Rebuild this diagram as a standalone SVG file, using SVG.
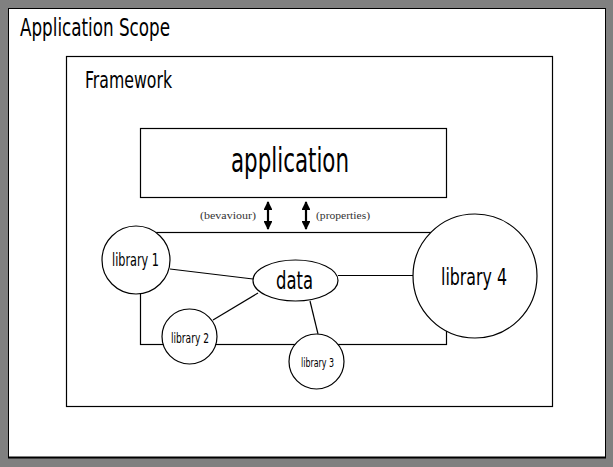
<svg xmlns="http://www.w3.org/2000/svg" width="613" height="467" viewBox="0 0 613 467">
<defs>
<style>
.ln{stroke:#000;stroke-width:1.2;fill:none}
.nd{stroke:#000;stroke-width:1.2;fill:#fff}
.t{font-family:"DejaVu Sans Condensed","DejaVu Sans","Liberation Sans",sans-serif;fill:#000}
.s{font-family:"Liberation Serif",serif;fill:#333;font-size:11px}
.ar{stroke:#000;stroke-width:2.2;fill:none}
</style>
<marker id="ah" viewBox="0 0 10 10" refX="9" refY="5" markerWidth="4" markerHeight="4" orient="auto-start-reverse" markerUnits="strokeWidth">
<path d="M0,0 L10,5 L0,10 z" fill="#000"/>
</marker>
</defs>
<rect x="0" y="0" width="613" height="467" fill="#808080"/>
<rect x="8.5" y="8.5" width="597" height="449" fill="#fff" stroke="#000" stroke-width="1"/>
<line x1="8" y1="457.5" x2="606" y2="457.5" stroke="#000" stroke-width="2"/>
<text class="t" x="20" y="36" font-size="25" textLength="150" lengthAdjust="spacingAndGlyphs">Application Scope</text>
<g id="framework">
<rect x="66.5" y="56.5" width="486" height="350" class="nd"/>
<text class="t" x="85" y="88" font-size="23" textLength="87" lengthAdjust="spacingAndGlyphs">Framework</text>
</g>
<g id="application">
<rect x="140.5" y="128.5" width="306" height="69" class="nd"/>
<text class="t" x="231" y="172" font-size="33" textLength="118" lengthAdjust="spacingAndGlyphs">application</text>
</g>
<g id="connectors">
<rect x="140.5" y="232.5" width="306" height="112" class="ln"/>
<line class="ar" x1="268" y1="202" x2="268" y2="229" marker-start="url(#ah)" marker-end="url(#ah)"/>
<line class="ar" x1="306" y1="202" x2="306" y2="229" marker-start="url(#ah)" marker-end="url(#ah)"/>
<line class="ln" x1="170" y1="269" x2="253" y2="279"/>
<line class="ln" x1="258" y1="293" x2="213" y2="320"/>
<line class="ln" x1="310" y1="301" x2="318" y2="334"/>
<line class="ln" x1="338" y1="275.5" x2="413" y2="275.5"/>
<text class="s" x="200" y="219" textLength="56" lengthAdjust="spacingAndGlyphs">(bevaviour)</text>
<text class="s" x="316" y="219" textLength="54" lengthAdjust="spacingAndGlyphs">(properties)</text>
</g>
<g id="library1">
<circle cx="136" cy="260" r="34" class="nd"/>
<text class="t" x="112" y="266" font-size="17" textLength="47" lengthAdjust="spacingAndGlyphs">library 1</text>
</g>
<g id="data">
<ellipse cx="295.5" cy="280.5" rx="42.5" ry="20.5" class="nd"/>
<text class="t" x="276" y="289" font-size="25" textLength="37" lengthAdjust="spacingAndGlyphs">data</text>
</g>
<g id="library4">
<circle cx="475" cy="276" r="62" class="nd"/>
<text class="t" x="441" y="285" font-size="23" textLength="66" lengthAdjust="spacingAndGlyphs">library 4</text>
</g>
<g id="library2">
<circle cx="189.5" cy="336.5" r="27.5" class="nd"/>
<text class="t" x="171" y="343" font-size="14" textLength="38" lengthAdjust="spacingAndGlyphs">library 2</text>
</g>
<g id="library3">
<circle cx="316.5" cy="361.5" r="27.5" class="nd"/>
<text class="t" x="301" y="367" font-size="13" textLength="33" lengthAdjust="spacingAndGlyphs">library 3</text>
</g>
</svg>
